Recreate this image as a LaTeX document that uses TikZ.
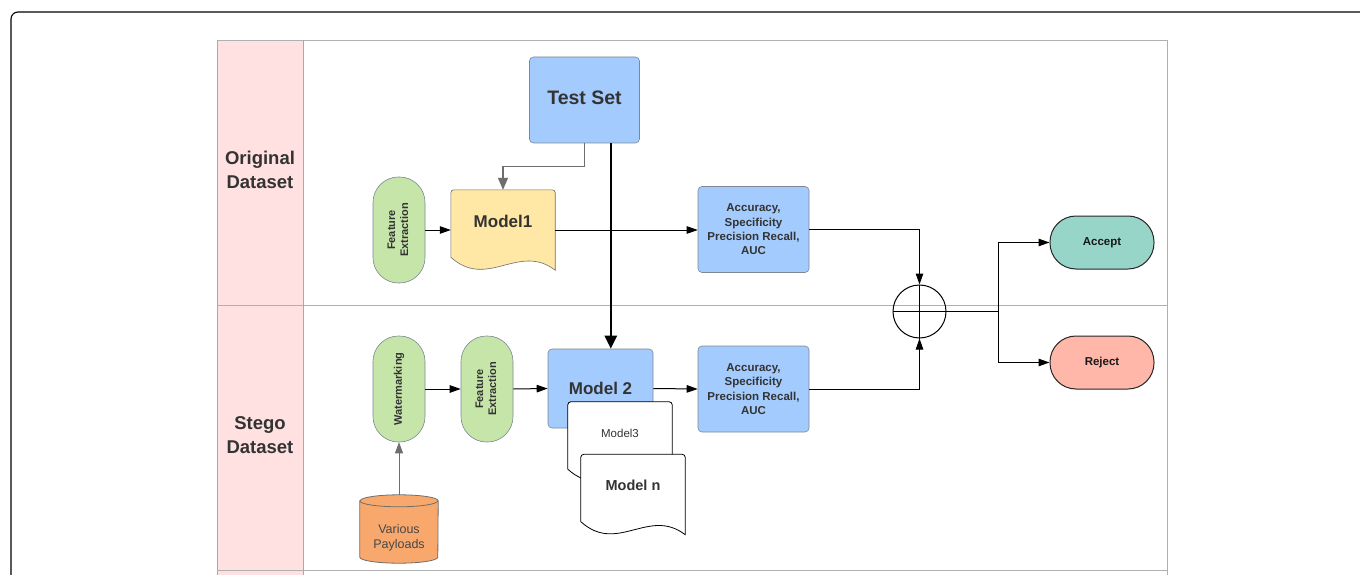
\documentclass[tikz,border=0pt]{standalone}
\usepackage{fontspec}
\setmainfont{Liberation Sans}
\usepackage{graphicx}
\usetikzlibrary{arrows.meta,calc}

\definecolor{lanehead}{HTML}{FFE1E1}
\definecolor{laneline}{HTML}{B0B0B0}
\definecolor{headedge}{HTML}{B8A4A4}
\definecolor{boxblue}{HTML}{A4CBFD}
\definecolor{pillgreen}{HTML}{C6E6A9}
\definecolor{docyellow}{HTML}{FFE8A6}
\definecolor{okteal}{HTML}{97D5C8}
\definecolor{nored}{HTML}{FFB7AA}
\definecolor{payorange}{HTML}{F8A86C}
\definecolor{inktext}{HTML}{333333}
\definecolor{shapeedge}{HTML}{7D8894}
\definecolor{feedgray}{HTML}{6E6E6E}

% document shape with a wavy bottom, drawn around a named node
\newcommand\wavedoc[2]{%
  \path[#2] let \p1=(#1.north west), \p2=(#1.south east) in
    (\x1,{\y2+13pt}) -- (\x1,{\y1-3pt})
    arc[start angle=180,end angle=90,radius=3pt] -- ({\x2-3pt},\y1)
    arc[start angle=90,end angle=0,radius=3pt] -- (\x2,\y2)
    .. controls ({\x1+0.65*(\x2-\x1)},{\y2+28pt}) and ({\x1+0.35*(\x2-\x1)},{\y2-20pt}) .. (\x1,{\y2+13pt})
    -- cycle;}

\tikzset{
  every node/.style={text=inktext, align=center, inner sep=0pt},
  tip/.style={-{Triangle[length=11pt,width=7.5pt]}},
  flow/.style={draw=black, line width=1pt, tip},
  plain/.style={draw=black, line width=1pt},
  bluebox/.style={draw=shapeedge, fill=boxblue, rounded corners=4pt, line width=0.6pt},
  metricbox/.style={bluebox, minimum width=111pt, minimum height=86pt,
    font=\fontsize{11.5}{14.3}\selectfont\bfseries},
  pill/.style={draw=shapeedge, fill=pillgreen, rounded corners=25.5pt, line width=0.6pt,
    minimum width=52pt, minimum height=106pt, font=\fontsize{11}{13}\selectfont\bfseries},
  endpill/.style={draw=black!85, rounded corners=26pt, line width=1pt,
    minimum width=104pt, minimum height=53pt, text=black!90,
    font=\fontsize{11.5}{14}\selectfont\bfseries},
  docnode/.style={minimum width=104pt, minimum height=80pt, text depth=18pt},
  lanelabel/.style={font=\fontsize{18.5}{24.5}\selectfont\bfseries},
}

\begin{document}
\begin{tikzpicture}[x=1pt,y=-1pt]
\useasboundingbox (0,0) rectangle (1360,575);
\clip (0,0) rectangle (1360,575);
\fill[white] (0,0) rectangle (1360,575);

% outer frame
\draw[line width=1.1pt, rounded corners=7pt] (11,12) rectangle (1390,620);

% swimlane pool
\fill[lanehead] (217,40) rectangle (303,590);
\draw[laneline, line width=0.8pt] (217,40) -- (1167,40);
\draw[laneline, line width=0.8pt] (1167,40) -- (1167,590);
\draw[laneline, line width=0.8pt] (217,305) -- (1167,305);
\draw[laneline, line width=0.8pt] (217,570) -- (1167,570);
\draw[headedge, line width=0.8pt] (217,40) -- (217,590);
\draw[headedge, line width=0.8pt] (303,40) -- (303,590);

\node[lanelabel] (lane1) at (260,170) {Original\\Dataset};
\node[lanelabel] (lane2) at (260,435) {Stego\\Dataset};

% lane 1
\node[bluebox, minimum width=110pt, minimum height=86pt, text depth=5pt,
  font=\fontsize{19.5}{22}\selectfont\bfseries] (ts) at (584.5,100) {Test Set};
\node[pill] (fe1) at (399,230)
  {\rotatebox{90}{\begin{tabular}{@{}c@{}}Feature\\Extraction\end{tabular}}};
\node[docnode, font=\fontsize{17}{20}\selectfont\bfseries] (m1) at (503,230) {};
\wavedoc{m1}{fill=docyellow, draw=feedgray, line width=0.6pt}
\node[docnode, font=\fontsize{17}{20}\selectfont\bfseries] at (m1) {Model1};
\node[metricbox] (acc1) at (753.5,229.5) {Accuracy,\\Specificity\\Precision Recall,\\AUC};

% lane 2
\node[pill] (wm) at (399,389) {\rotatebox{90}{Watermarking}};
\node[pill] (fe2) at (487,389)
  {\rotatebox{90}{\begin{tabular}{@{}c@{}}Feature\\Extraction\end{tabular}}};
\node[bluebox, minimum width=105pt, minimum height=79pt,
  font=\fontsize{17}{20}\selectfont\bfseries] (m2) at (600.5,388.5) {Model 2};
\node[docnode, font=\fontsize{11.5}{14}\selectfont] (m3) at (620,442) {};
\wavedoc{m3}{fill=white, draw=black, line width=0.8pt}
\node[docnode, font=\fontsize{11.5}{14}\selectfont] at (m3) {Model3};
\node[docnode, font=\fontsize{14.5}{17}\selectfont\bfseries] (mn) at (633,494.5) {};
\wavedoc{mn}{fill=white, draw=black, line width=0.8pt}
\node[docnode, font=\fontsize{14.5}{17}\selectfont\bfseries] at (mn) {Model n};
\node[metricbox] (acc2) at (753.5,389) {Accuracy,\\Specificity\\Precision Recall,\\AUC};

% payload store
\node[minimum width=78pt, minimum height=68pt, font=\fontsize{12.5}{15}\selectfont] (pay) at (399,529) {};
\path[fill=payorange, draw=feedgray, line width=0.8pt]
  let \p1=(pay.north west), \p2=(pay.south east) in
  (\x1,{\y1-6pt}) -- (\x1,{\y2+6pt})
  arc[start angle=180,end angle=360,x radius=39pt,y radius=6pt]
  -- (\x2,{\y1-6pt})
  arc[start angle=0,end angle=180,x radius=39pt,y radius=6pt] -- cycle;
\draw[feedgray, line width=0.8pt]
  let \p1=(pay.north west) in
  (\x1,{\y1-6pt}) arc[start angle=180,end angle=360,x radius=39pt,y radius=6pt];
\node[font=\fontsize{12.5}{15}\selectfont, text=inktext!90] at ($(pay)+(0,8.5)$) {Various\\Payloads};

% combiner and decisions
\node[circle, draw=black, line width=1pt, minimum size=53pt] (sum) at (919.5,311.5) {};
\draw[line width=1pt] (sum.north) -- (sum.south) (sum.west) -- (sum.east);
\node[endpill, fill=okteal] (acc) at (1102,242.5) {Accept};
\node[endpill, fill=nored] (rej) at (1102,362.5) {Reject};
\coordinate (split) at (998,311.5);

% connectors
\draw[feedgray, line width=1.3pt, -{Triangle[length=12pt,width=10pt]}]
  (ts.south) |- ($(m1.north)+(0,-23)$) -- (m1.north);
\coordinate (tsdrop) at ($(ts.south east)+(-29,0)$);
\draw[line width=2.6pt, -{Triangle[length=13pt,width=12pt]}] (tsdrop) -- (tsdrop |- m2.north);
\draw[flow] (fe1.east) -- (fe1.east -| m1.west);
\draw[plain, line width=0.7pt, tip] (m1.east) -- (m1.east -| acc1.west);
\draw[flow] (acc1.east) -| (sum.north);
\draw[flow] (acc2.east) -| (sum.south);
\draw[flow] (wm.east) -- (fe2.west);
\draw[flow] (fe2.east) -- (m2.west);
\draw[flow] (m2.east) -- (acc2.west);
\draw[feedgray, line width=0.8pt, -{Triangle[length=11pt,width=8pt]}] (pay.north) -- (wm.south);
\draw[plain] (sum.east) -- (split);
\draw[flow] (split) |- (acc.west);
\draw[flow] (split) |- (rej.west);
\end{tikzpicture}
\end{document}
